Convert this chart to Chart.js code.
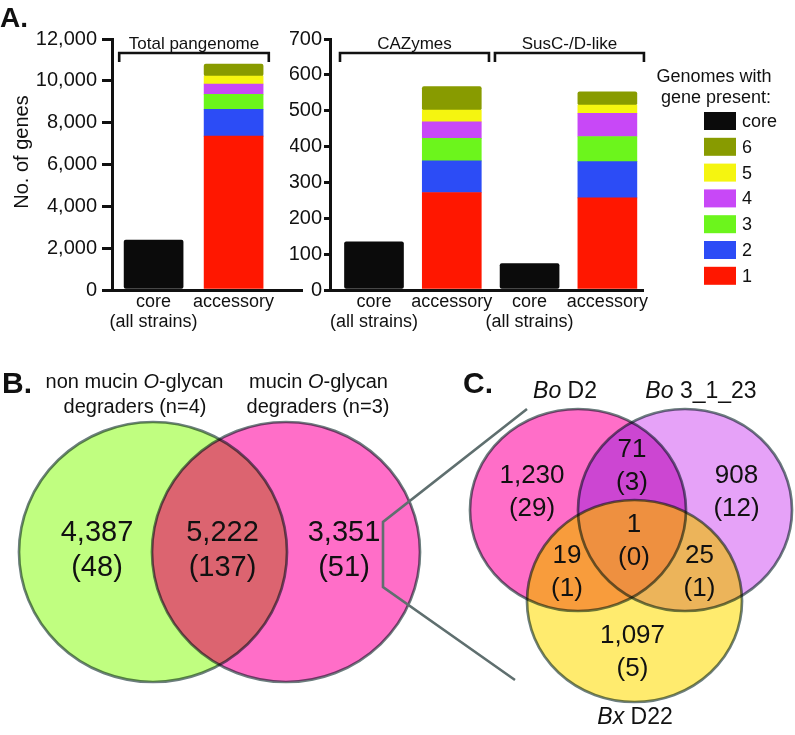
<!DOCTYPE html>
<html>
<head>
<meta charset="utf-8">
<script src="https://cdn.jsdelivr.net/npm/chart.js@4.4.1/dist/chart.umd.min.js"></script>
<style>
  body { margin: 0; background: #fff; }
  #page { position: relative; width: 795px; height: 735px; overflow: hidden; }
  canvas { position: absolute; }
</style>
</head>
<body>
<div id="page">
  <canvas id="pangenome" width="310" height="340" style="left:0;top:0"></canvas>
  <canvas id="families" width="505" height="340" style="left:290px;top:0"></canvas>
  <canvas id="venn" width="795" height="405" style="left:0;top:330px"></canvas>
</div>
<script>
// ---- data ----
const genomeCounts = ['1', '2', '3', '4', '5', '6'];   // genomes with gene present
const pangenomeLabels = [['core', '(all strains)'], 'accessory'];
const pangenomeCore = [2390];
const pangenomeAccessory = [7360, 1280, 720, 490, 380, 570];

const familyLabels = [['core', '(all strains)'], 'accessory', ['core', '(all strains)'], 'accessory'];
const cazymeCore = 134;
const cazymeAccessory = [272, 88, 63, 46, 33, 65];
const suscCore = 74;
const suscAccessory = [257, 101, 70, 65, 23, 37];

const pangenomeTicks = { max: 12000, step: 2000 };
const familyTicks = { max: 700, step: 100 };

// Venn B: only non-mucin degraders, shared, only mucin degraders
const vennBGenes = [4387, 5222, 3351];
const vennBPuls = [48, 137, 51];
// Venn C: D2 only, D2+3_1_23, 3_1_23 only, all three, D2+D22, 3_1_23+D22, D22 only
const vennCGenes = [1230, 71, 908, 1, 19, 25, 1097];
const vennCPuls = [29, 3, 12, 0, 1, 1, 5];

// ---- styling / layout ----
const FONT = '"Liberation Sans", Arial, Helvetica, sans-serif';
const INK = '#111';
const colors = {
  core: '#0b0b0b', '1': '#ff1700', '2': '#2c4cf6', '3': '#6cf51c',
  '4': '#c848f7', '5': '#f5f510', '6': '#889b00'
};
Chart.defaults.font.family = FONT;
Chart.defaults.color = INK;

function stackDatasets(coreXs, coreVals, accXs, accVals) {
  const sets = [{
    label: 'core',
    data: coreXs.map((x, i) => ({ x: x, y: coreVals[i] })),
    backgroundColor: colors.core
  }];
  genomeCounts.forEach((g, k) => {
    sets.push({
      label: g,
      data: accXs.map((x, i) => ({ x: x, y: accVals[i][k] })),
      backgroundColor: colors[g]
    });
  });
  return sets;
}

function bracketPlugin(groups, extra) {
  return {
    id: 'brackets',
    afterDraw(chart) {
      const { ctx, chartArea, scales: { x } } = chart;
      ctx.save();
      ctx.strokeStyle = INK;
      ctx.fillStyle = INK;
      ctx.lineWidth = 2.6;
      ctx.font = '17px ' + FONT;
      ctx.textAlign = 'center';
      ctx.textBaseline = 'middle';
      const y = chartArea.top + 14;
      groups.forEach(g => {
        const x1 = x.getPixelForValue(g.from), x2 = x.getPixelForValue(g.to);
        ctx.beginPath();
        ctx.moveTo(x1, y + 9); ctx.lineTo(x1, y); ctx.lineTo(x2, y); ctx.lineTo(x2, y + 9);
        ctx.stroke();
        ctx.fillText(g.text, (x1 + x2) / 2, y - 9);
      });
      if (extra) extra(ctx, chart);
      ctx.restore();
    }
  };
}

function barOptions(o) {
  return {
    responsive: false,
    animation: false,
    layout: { padding: { left: 0, top: 39, right: o.right, bottom: 0 } },
    datasets: { bar: { barThickness: 59, borderRadius: 2, borderSkipped: false } },
    plugins: { legend: { display: false }, tooltip: { enabled: false } },
    scales: {
      x: {
        type: 'linear', stacked: true, min: o.xmin, max: o.xmax,
        offset: false, bounds: 'data', grace: 0,
        afterFit: s => { s.height = 50; },
        afterBuildTicks: s => { s.ticks = o.labels.map((l, i) => ({ value: i + 1 })); },
        ticks: {
          autoSkip: false, maxRotation: 0, padding: 2, color: INK,
          font: { size: 18, lineHeight: 1.1 },
          callback: v => o.labels[Math.round(v) - 1]
        },
        grid: { display: false, drawTicks: false, offset: false },
        border: { color: INK, width: 3 }
      },
      y: {
        stacked: true, min: 0, max: o.ticks.max,
        afterFit: s => { s.width = o.yWidth; },
        ticks: {
          stepSize: o.ticks.step, padding: o.tickPad, color: INK,
          font: { size: 20, family: o.tickFamily },
          callback: v => v.toLocaleString('en-US')
        },
        grid: { drawOnChartArea: false, color: INK, lineWidth: 3, tickLength: o.tickLen },
        border: { color: INK, width: 3 }
      }
    }
  };
}

// ---- Panel A, total pangenome ----
new Chart(document.getElementById('pangenome'), {
  type: 'bar',
  data: {
    datasets: stackDatasets([1], pangenomeCore, [2], [pangenomeAccessory])
  },
  options: barOptions({
    right: 8, xmin: 0.48, xmax: 2.855, labels: pangenomeLabels,
    ticks: pangenomeTicks, yWidth: 112, tickLen: 10, tickPad: 5, tickFamily: FONT
  }),
  plugins: [bracketPlugin([{ text: 'Total pangenome', from: 0.57, to: 2.44 }], (ctx) => {
    ctx.font = 'bold 28px ' + FONT;
    ctx.textAlign = 'left';
    ctx.textBaseline = 'alphabetic';
    ctx.fillText('A.', 0, 27);
    ctx.save();
    ctx.translate(22, 152);
    ctx.rotate(-Math.PI / 2);
    ctx.font = '20px ' + FONT;
    ctx.textAlign = 'center';
    ctx.textBaseline = 'middle';
    ctx.fillText('No. of genes', 0, 0);
    ctx.restore();
  })]
});

// ---- Panel A, CAZymes and SusC-/D-like ----
new Chart(document.getElementById('families'), {
  type: 'bar',
  data: {
    datasets: stackDatasets([1, 3], [cazymeCore, suscCore], [2, 4], [cazymeAccessory, suscAccessory])
  },
  options: barOptions({
    right: 152, xmin: 0.4345, xmax: 4.458, labels: familyLabels,
    ticks: familyTicks, yWidth: 40, tickLen: 6, tickPad: 2,
    tickFamily: '"Liberation Sans Narrow", ' + FONT
  }),
  plugins: [bracketPlugin([
    { text: 'CAZymes', from: 0.563, to: 2.478 },
    { text: 'SusC-/D-like', from: 2.555, to: 4.47 }
  ], (ctx, chart) => {
    // legend, core first then 6 down to 1
    ctx.font = '18px ' + FONT;
    ctx.textAlign = 'center';
    ctx.textBaseline = 'middle';
    ctx.fillText('Genomes with', 424, 77);
    ctx.fillText('gene present:', 426, 98);
    const order = [0, 6, 5, 4, 3, 2, 1];
    ctx.textAlign = 'left';
    order.forEach((di, i) => {
      const ds = chart.data.datasets[di];
      const cy = 121 + i * 25.8;
      ctx.fillStyle = ds.backgroundColor;
      ctx.fillRect(414, cy - 9, 32, 18);
      ctx.fillStyle = INK;
      ctx.fillText(ds.label, 452, cy + 1);
    });
  })]
});

// ---- Panels B and C, Venn diagrams (page pixel units on hidden linear scales) ----
const vennBCircles = [
  { x: 153, y: 552, rx: 134, ry: 130 },
  { x: 286, y: 552, rx: 134, ry: 130 }
];
const vennBFills = [
  { sets: [0], color: '#c0fe80' },
  { sets: [1], color: '#ff6ec8' },
  { sets: [0, 1], color: '#dc6470' }
];
const vennBLabelPos = [[97, 533], [222.5, 533], [344, 533]];
const vennBTitles = [
  ['non mucin *O*-glycan', 134.5, 382], ['degraders (n=4)', 135, 407],
  ['mucin *O*-glycan', 318.5, 382], ['degraders (n=3)', 318, 407]
];

const vennCCircles = [
  { x: 578, y: 510, rx: 108, ry: 101 },
  { x: 685, y: 510, rx: 107, ry: 101 },
  { x: 634.5, y: 601, rx: 107.5, ry: 101 }
];
const vennCFills = [
  { sets: [0], color: '#ff6ec8' },
  { sets: [1], color: '#e6a2f8' },
  { sets: [2], color: '#ffeb6e' },
  { sets: [0, 1], color: '#cc46d2' },
  { sets: [0, 2], color: '#f89c3c' },
  { sets: [1, 2], color: '#ecb45a' },
  { sets: [0, 1, 2], color: '#ee9040' }
];
const vennCLabelPos = [[532, 476], [632, 450], [736.5, 476], [634, 525], [567, 556], [699.5, 556], [632.5, 636]];
const vennCTitles = [['*Bo* D2', 565, 392], ['*Bo* 3_1_23', 701, 392], ['*Bx* D22', 635, 718]];
const connector = [[527, 409], [383, 522], [383, 587], [515, 680]];

function drawRich(ctx, str, cx, cy, size) {
  const parts = str.split('*');
  const fonts = parts.map((p, i) => (i % 2 ? 'italic ' : '') + size + 'px ' + FONT);
  let w = 0;
  parts.forEach((p, i) => { ctx.font = fonts[i]; w += ctx.measureText(p).width; });
  let x = cx - w / 2;
  ctx.textAlign = 'left';
  ctx.textBaseline = 'middle';
  parts.forEach((p, i) => { ctx.font = fonts[i]; ctx.fillText(p, x, cy); x += ctx.measureText(p).width; });
}

const vennPlugin = {
  id: 'venn',
  afterDraw(chart) {
    const { ctx, scales: { x, y } } = chart;
    const px = v => x.getPixelForValue(v), py = v => y.getPixelForValue(v);
    const ellipse = (meta, c, i) => {
      const pt = meta.data[i];
      ctx.beginPath();
      ctx.ellipse(pt.x, pt.y, px(c.x + c.rx) - pt.x, Math.abs(py(c.y + c.ry) - pt.y), 0, 0, Math.PI * 2);
    };
    const drawVenn = (meta, circles, fills) => {
      fills.forEach(f => {
        ctx.save();
        for (let k = 0; k < f.sets.length - 1; k++) { ellipse(meta, circles[f.sets[k]], f.sets[k]); ctx.clip(); }
        const last = f.sets[f.sets.length - 1];
        ellipse(meta, circles[last], last);
        ctx.fillStyle = f.color;
        ctx.fill();
        ctx.restore();
      });
      ctx.save();
      ctx.globalCompositeOperation = 'multiply';
      ctx.strokeStyle = '#6c7e7e';
      ctx.lineWidth = 2.7;
      circles.forEach((c, i) => { ellipse(meta, c, i); ctx.stroke(); });
      ctx.restore();
    };
    const labels = (genes, puls, pos, size, gap) => {
      ctx.fillStyle = INK;
      ctx.font = size + 'px ' + FONT;
      ctx.textAlign = 'center';
      ctx.textBaseline = 'middle';
      genes.forEach((g, i) => {
        ctx.fillText(g.toLocaleString('en-US'), px(pos[i][0]), py(pos[i][1]));
        ctx.fillText('(' + puls[i] + ')', px(pos[i][0]), py(pos[i][1] + gap));
      });
    };

    ctx.save();
    drawVenn(chart.getDatasetMeta(0), vennBCircles, vennBFills);
    drawVenn(chart.getDatasetMeta(1), vennCCircles, vennCFills);

    ctx.strokeStyle = '#5f6f6f';
    ctx.lineWidth = 2.6;
    ctx.beginPath();
    connector.forEach((p, i) => i ? ctx.lineTo(px(p[0]), py(p[1])) : ctx.moveTo(px(p[0]), py(p[1])));
    ctx.stroke();

    labels(vennBGenes, vennBPuls, vennBLabelPos, 29, 35);
    labels(vennCGenes, vennCPuls, vennCLabelPos, 26, 32.5);

    ctx.fillStyle = INK;
    vennBTitles.forEach(t => drawRich(ctx, t[0], px(t[1]), py(t[2]), 20));
    vennCTitles.forEach(t => drawRich(ctx, t[0], px(t[1]), py(t[2]), 23));

    ctx.font = 'bold 30px ' + FONT;
    ctx.textAlign = 'left';
    ctx.textBaseline = 'alphabetic';
    ctx.fillText('B.', px(2), py(393));
    ctx.fillText('C.', px(463), py(393));
    ctx.restore();
  }
};

new Chart(document.getElementById('venn'), {
  type: 'scatter',
  data: {
    datasets: [
      { label: 'B', data: vennBCircles.map(c => ({ x: c.x, y: c.y })), pointRadius: 0 },
      { label: 'C', data: vennCCircles.map(c => ({ x: c.x, y: c.y })), pointRadius: 0 }
    ]
  },
  options: {
    responsive: false,
    animation: false,
    layout: { padding: 0 },
    plugins: { legend: { display: false }, tooltip: { enabled: false } },
    scales: {
      x: { type: 'linear', display: false, min: 0, max: 795 },
      y: { type: 'linear', display: false, min: 330, max: 735, reverse: true }
    }
  },
  plugins: [vennPlugin]
});
</script>
</body>
</html>
